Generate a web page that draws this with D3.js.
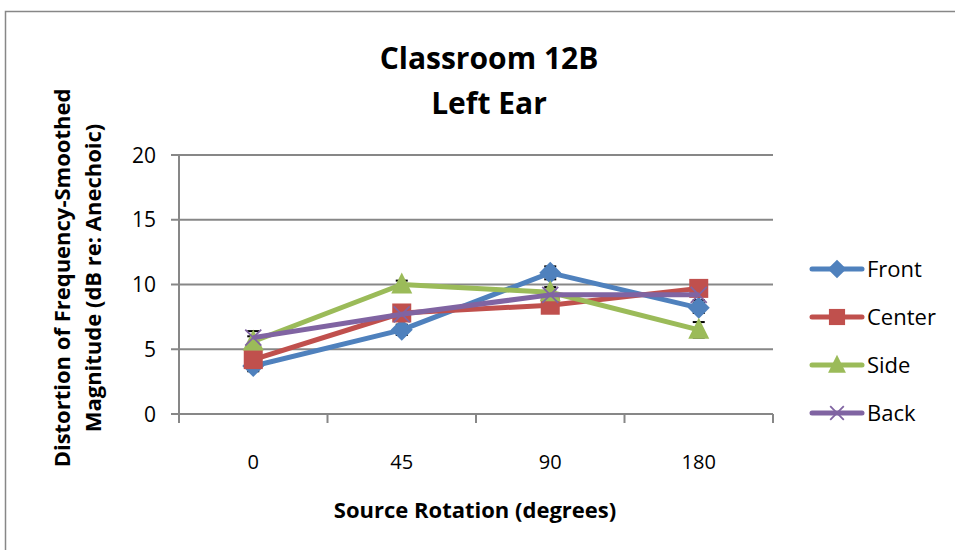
<!DOCTYPE html>
<html>
<head>
<meta charset="utf-8">
<script src="https://cdn.jsdelivr.net/npm/d3@7/dist/d3.min.js"></script>
<style>
  html, body { margin: 0; padding: 0; background: #fff; }
  svg { display: block; }
  text { font-family: "Open Sans", "Noto Sans", sans-serif; fill: #000; }
</style>
</head>
<body>
<svg id="chart" width="955" height="550"></svg>
<script>
// Source rotation categories (degrees)
const categories = ["0", "45", "90", "180"];

// Distortion (dB re: anechoic) per source position
const front  = [3.7, 6.5, 10.9, 8.2];
const center = [4.2, 7.8, 8.4, 9.7];
const side   = [5.6, 10.0, 9.4, 6.5];
const back   = [5.9, 7.7, 9.2, 9.2];

// Error bar half-widths
const frontErr  = [0.4, 0.4, 0.5, 0.4];
const centerErr = [0.4, 0.4, 0.4, 0.4];
const sideErr   = [0.4, 0.3, 0.4, 0.6];
const backErr   = [0.5, 0.4, 0.4, 0.4];

const yTicks = [0, 5, 10, 15, 20];
const seriesNames = ["Front", "Center", "Side", "Back"];

const series = [
  { name: seriesNames[0], values: front,  err: frontErr,  color: "#4F81BD", marker: "diamond" },
  { name: seriesNames[1], values: center, err: centerErr, color: "#C0504D", marker: "square" },
  { name: seriesNames[2], values: side,   err: sideErr,   color: "#9BBB59", marker: "triangle" },
  { name: seriesNames[3], values: back,   err: backErr,   color: "#8064A2", marker: "x" }
];

const svg = d3.select("#chart");

// Outer chart frame
svg.append("path")
  .attr("d", "M5.5,560 L5.5,11.5 L960,11.5")
  .attr("fill", "none")
  .attr("stroke", "#878787")
  .attr("stroke-width", 1.5);

const plot = { left: 179, right: 773, top: 155, bottom: 414 };

const x = d3.scaleBand().domain(categories).range([plot.left, plot.right]);
const y = d3.scaleLinear().domain([0, 20]).range([plot.bottom, plot.top]);

const gridColor = "#878787";

// Horizontal gridlines
svg.append("g")
  .selectAll("line")
  .data(yTicks)
  .join("line")
  .attr("x1", plot.left - 8)
  .attr("x2", plot.right)
  .attr("y1", d => y(d))
  .attr("y2", d => y(d))
  .attr("stroke", gridColor)
  .attr("stroke-width", 2);

// Y axis line
svg.append("line")
  .attr("x1", plot.left).attr("x2", plot.left)
  .attr("y1", plot.top).attr("y2", plot.bottom + 1)
  .attr("stroke", gridColor).attr("stroke-width", 2);

// X axis tick marks at category boundaries
const xBounds = categories.map(c => x(c)).concat([x(categories[categories.length - 1]) + x.bandwidth()]);
svg.append("g")
  .selectAll("line")
  .data(xBounds)
  .join("line")
  .attr("x1", d => d).attr("x2", d => d)
  .attr("y1", plot.bottom).attr("y2", plot.bottom + 9)
  .attr("stroke", gridColor).attr("stroke-width", 2);

// Y tick labels
svg.append("g")
  .selectAll("text")
  .data(yTicks)
  .join("text")
  .attr("x", 156)
  .attr("y", d => y(d))
  .attr("dy", "0.36em")
  .attr("text-anchor", "end")
  .attr("font-size", 21)
  .text(d => d);

// X tick labels
svg.append("g")
  .selectAll("text")
  .data(categories)
  .join("text")
  .attr("x", d => x(d) + x.bandwidth() / 2)
  .attr("y", 469)
  .attr("text-anchor", "middle")
  .attr("font-size", 20)
  .text(d => d);

// Title
const title = svg.append("text")
  .attr("text-anchor", "middle")
  .attr("font-size", 30)
  .attr("font-weight", "bold");
title.append("tspan").attr("x", 489).attr("y", 69).text("Classroom 12B");
title.append("tspan").attr("x", 489).attr("y", 114).text("Left Ear");

// Axis titles
svg.append("text")
  .attr("x", 475).attr("y", 518)
  .attr("text-anchor", "middle")
  .attr("font-size", 22)
  .attr("font-weight", "bold")
  .text("Source Rotation (degrees)");

const yTitle = svg.append("text")
  .attr("transform", "translate(0,278) rotate(-90)")
  .attr("text-anchor", "middle")
  .attr("font-size", 22)
  .attr("font-weight", "bold");
yTitle.append("tspan").attr("x", 0).attr("y", 70).text("Distortion of Frequency-Smoothed");
yTitle.append("tspan").attr("x", 0).attr("y", 101).text("Magnitude (dB re: Anechoic)");

const cx = i => x(categories[i]) + x.bandwidth() / 2;

// Error bars
const errG = svg.append("g");
series.forEach(s => {
  s.values.forEach((v, i) => {
    const e = s.err[i];
    errG.append("line")
      .attr("x1", cx(i)).attr("x2", cx(i))
      .attr("y1", y(v - e)).attr("y2", y(v + e))
      .attr("stroke", "#000").attr("stroke-width", 1.5);
    [v - e, v + e].forEach(t => {
      errG.append("line")
        .attr("x1", cx(i) - 6).attr("x2", cx(i) + 6)
        .attr("y1", y(t)).attr("y2", y(t))
        .attr("stroke", "#000").attr("stroke-width", 2);
    });
  });
});

// Marker shapes
function drawMarker(g, type, px, py, color, scale) {
  const k = scale || 1;
  if (type === "diamond") {
    const r = 11 * k;
    g.append("path")
      .attr("d", `M${px},${py - r} L${px + r},${py} L${px},${py + r} L${px - r},${py} Z`)
      .attr("fill", color);
  } else if (type === "square") {
    const h = 9.5 * k;
    g.append("rect")
      .attr("x", px - h).attr("y", py - h)
      .attr("width", 2 * h).attr("height", 2 * h)
      .attr("fill", color);
  } else if (type === "triangle") {
    const w = 10.5 * k, hTop = 12 * k, hBot = 9 * k;
    g.append("path")
      .attr("d", `M${px},${py - hTop} L${px + w},${py + hBot} L${px - w},${py + hBot} Z`)
      .attr("fill", color);
  } else if (type === "x") {
    const r = 8 * k;
    g.append("path")
      .attr("d", `M${px - r},${py - r} L${px + r},${py + r} M${px - r},${py + r} L${px + r},${py - r}`)
      .attr("stroke", color)
      .attr("stroke-width", 1.8)
      .attr("fill", "none");
  }
}

// Series lines and markers
const line = d3.line()
  .x((d, i) => cx(i))
  .y(d => y(d));

series.forEach(s => {
  const g = svg.append("g");
  g.append("path")
    .datum(s.values)
    .attr("d", line)
    .attr("fill", "none")
    .attr("stroke", s.color)
    .attr("stroke-width", 5)
    .attr("stroke-linejoin", "round");
  s.values.forEach((v, i) => drawMarker(g, s.marker, cx(i), y(v), s.color));
});

// Legend
const legend = svg.append("g");
series.forEach((s, i) => {
  const ly = 269 + i * 48;
  legend.append("line")
    .attr("x1", 812).attr("x2", 862)
    .attr("y1", ly).attr("y2", ly)
    .attr("stroke", s.color)
    .attr("stroke-width", 5)
    .attr("stroke-linecap", "round");
  drawMarker(legend, s.marker, 837, ly, s.color, 0.85);
  legend.append("text")
    .attr("x", 867).attr("y", ly)
    .attr("dy", "0.36em")
    .attr("font-size", 22)
    .text(s.name);
});
</script>
</body>
</html>
